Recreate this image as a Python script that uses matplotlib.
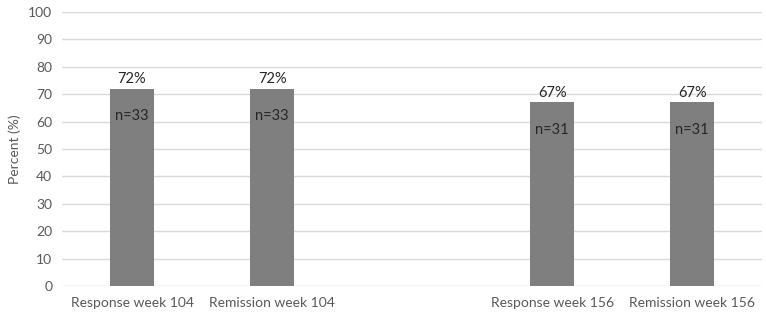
import matplotlib
matplotlib.use('Agg')
import matplotlib.pyplot as plt
import numpy as np

categories = ['Response week 104', 'Remission week 104', '',
              'Response week 156', 'Remission week 156']
percent = [72, 72, np.nan, 67, 67]
counts = [33, 33, None, 31, 31]

plt.rcParams['font.family'] = ['Lato', 'DejaVu Sans']

fig = plt.figure(figsize=(7.66, 3.16), dpi=100)
ax = fig.add_axes([0.081, 0.095, 0.914, 0.867])

x = np.arange(len(categories))
ax.bar(x, percent, width=0.31, color='#7f7f7f', zorder=2)

for xi, p, n in zip(x, percent, counts):
    if n is None:
        continue
    ax.text(xi, p + 1.0, f'{p}%', ha='center', va='bottom',
            fontsize=10.5, color='#262626')
    ax.text(xi, p - 10, f'n={n}', ha='center', va='center',
            fontsize=10.5, color='#262626')

ax.set_xlim(-0.5, len(categories) - 0.5)
ax.set_ylim(0, 100)
ax.set_yticks(np.arange(0, 101, 10))
ax.set_xticks(x)
ax.set_xticklabels(categories)
ax.tick_params(axis='both', length=0, labelsize=10, colors='#595959')
ax.tick_params(axis='x', pad=8)
ax.tick_params(axis='y', pad=7)
ax.grid(axis='y', color='#d9d9d9', linewidth=1, zorder=0)
ax.set_axisbelow(True)
for s in ax.spines.values():
    s.set_visible(False)
ax.set_ylabel('Percent (%)', fontsize=10, color='#595959')
ax.yaxis.set_label_coords(-0.058, 0.5)

fig.savefig('out.png', dpi=100)
